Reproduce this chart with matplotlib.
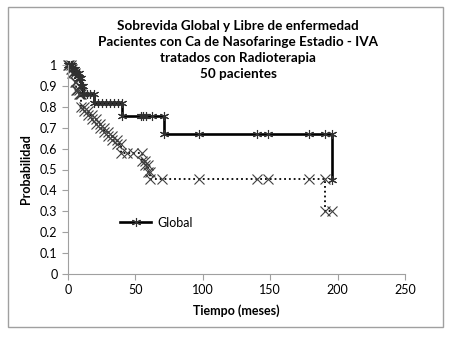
import matplotlib
matplotlib.use("Agg")
import matplotlib.pyplot as plt
from matplotlib.patches import Rectangle

# Global survival: event times and survival after each event
glob_t = [0, 3, 5, 8, 10, 11, 19, 40, 71, 196]
glob_s = [1.0, 0.98, 0.96, 0.94, 0.90, 0.86, 0.816, 0.755, 0.672, 0.452]
glob_cens = [1, 2, 4, 6, 12, 14, 16, 22, 25, 28, 31, 34, 37, 54, 56, 58, 62, 97, 140, 148, 179, 191]

# Disease-free survival
dfs_t = [0, 2, 3, 5, 6, 8, 10, 12, 15, 18, 21, 24, 27, 30, 33, 36, 39, 55, 57, 59, 61, 191]
dfs_s = [1.0, 0.98, 0.96, 0.92, 0.88, 0.86, 0.80, 0.78, 0.76, 0.74, 0.72, 0.70, 0.68, 0.66, 0.64,
         0.62, 0.577, 0.54, 0.52, 0.49, 0.456, 0.303]
dfs_cens = [1, 4, 7, 9, 44, 48, 70, 97, 140, 148, 179, 196]

xticks = [0, 50, 100, 150, 200, 250]
yticks = [0, 0.1, 0.2, 0.3, 0.4, 0.5, 0.6, 0.7, 0.8, 0.9, 1]
title = ("Sobrevida Global y Libre de enfermedad\n"
         "Pacientes con Ca de Nasofaringe Estadio - IVA\n"
         "tratados con Radioterapia\n50 pacientes")


def step_points(ts, ss, cens):
    xs, ys = [ts[0]], [ss[0]]
    for i in range(1, len(ts)):
        xs += [ts[i], ts[i]]
        ys += [ss[i - 1], ss[i]]
    pts = list(zip(xs, ys))
    for c in cens:
        s = ss[0]
        for t, v in zip(ts, ss):
            if t <= c:
                s = v
        pts.append((c, s))
    pts.sort(key=lambda p: (p[0], -p[1]))
    return [p[0] for p in pts], [p[1] for p in pts]


plt.rcParams['font.family'] = ['Lato', 'DejaVu Sans']

fig = plt.figure(figsize=(4.54, 3.38), dpi=100)
fig.patches.append(Rectangle((8 / 454, 1 - 327 / 338), (443 - 8) / 454, (327 - 7) / 338,
                             transform=fig.transFigure, fill=False, edgecolor='#a0a0a0', lw=1))
ax = fig.add_axes([68 / 454, 1 - 274 / 338, (405 - 68) / 454, (274 - 65) / 338])

gx, gy = step_points(glob_t, glob_s, glob_cens)
dx, dy = step_points(dfs_t, dfs_s, dfs_cens)

ax.plot(dx, dy, linestyle=':', color='black', lw=1.3, marker='x', markersize=6.5,
        markeredgecolor='#404040', markeredgewidth=0.8, clip_on=False)
ax.plot(gx, gy, linestyle='-', color='black', lw=1.9, marker=(6, 2, 0), markersize=6.5,
        markeredgecolor='#303030', markeredgewidth=0.8, clip_on=False, label='Global')

ax.set_xlim(0, 250)
ax.set_ylim(0, 1)
ax.set_xticks(xticks)
ax.set_yticks(yticks)
ax.set_yticklabels([f"{v:g}" for v in yticks])
for s in ['top', 'right']:
    ax.spines[s].set_visible(False)
for s in ['left', 'bottom']:
    ax.spines[s].set_color('#a0a0a0')
ax.tick_params(colors='#a0a0a0', labelcolor='black', labelsize=9, length=4, width=0.8)

ax.set_xlabel('Tiempo (meses)', fontsize=9, fontweight='bold', labelpad=6)
ax.set_ylabel('Probabilidad', fontsize=9, fontweight='bold', labelpad=6)

fig.text(0.525, 1 - 50 / 338, title, ha='center', va='center', fontsize=9.7, fontweight='bold',
         linespacing=1.42)

ax.legend(loc='center left', bbox_to_anchor=(0.14, 0.245), frameon=False, fontsize=9,
          handlelength=2.5, handletextpad=0.5, borderaxespad=0)

fig.savefig('out.png', dpi=100, facecolor='white')
